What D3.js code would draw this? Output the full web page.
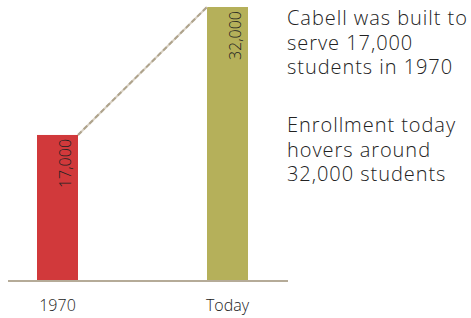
<!DOCTYPE html>
<html>
<head>
<meta charset="utf-8">
<script src="https://cdn.jsdelivr.net/npm/d3@7"></script>
<style>
  body { margin: 0; background: #fff; }
  svg { display: block; }
</style>
</head>
<body>
<script>
// data
var categories = ["1970", "Today"];
var enrollment = [17000, 32000];
var valueLabels = ["17,000", "32,000"];
var barColors = ["#d1393b", "#b5b05a"];
var notes = [
  ["Cabell was built to", "serve 17,000", "students in 1970"],
  ["Enrollment today", "hovers around", "32,000 students"]
];

var width = 471, height = 318;
var font = "'Open Sans', 'Noto Sans', sans-serif";
var svg = d3.select("body").append("svg")
  .attr("width", width).attr("height", height);

var x = d3.scalePoint().domain(categories).range([57.5, 227.5]);
var y = d3.scaleLinear().domain([0, 32000]).range([280, 7]);
var barW = 41;

var rows = categories.map(function(c, i){
  return {cat: c, val: enrollment[i], label: valueLabels[i], color: barColors[i]};
});

// bars
svg.selectAll("rect.bar").data(rows).enter().append("rect")
  .attr("class", "bar")
  .attr("x", d => x(d.cat) - barW / 2)
  .attr("y", d => y(d.val))
  .attr("width", barW)
  .attr("height", d => y(0) - y(d.val))
  .attr("fill", d => d.color);

// baseline
svg.append("line")
  .attr("x1", 8).attr("x2", 288)
  .attr("y1", y(0) + 1).attr("y2", y(0) + 1)
  .attr("stroke", "#b5ab98").attr("stroke-width", 2);

// connector between bar tops
var conn = [
  {x: x(categories[0]) + barW / 2, y: y(enrollment[0])},
  {x: x(categories[1]) - barW / 2, y: y(enrollment[1])}
];
var line = d3.line().x(d => d.x).y(d => d.y);
svg.append("path").attr("d", line(conn))
  .attr("stroke", "#d8d0c2").attr("stroke-width", 2).attr("fill", "none");
svg.append("path").attr("d", line(conn))
  .attr("stroke", "#aea38c").attr("stroke-width", 2).attr("fill", "none")
  .attr("stroke-dasharray", "5,3");

// value labels, rotated
svg.selectAll("text.val").data(rows).enter().append("text")
  .attr("class", "val")
  .attr("transform", d => "translate(" + (x(d.cat) + barW / 2 - 7) + "," + (y(d.val) + 4) + ") rotate(-90)")
  .attr("text-anchor", "end")
  .attr("font-family", font)
  .attr("font-weight", 300)
  .attr("font-size", 16)
  .attr("fill", "#222")
  .text(d => d.label);

// category labels
svg.selectAll("text.cat").data(categories).enter().append("text")
  .attr("class", "cat")
  .attr("x", d => x(d)).attr("y", 310.5)
  .attr("text-anchor", "middle")
  .attr("font-family", font)
  .attr("font-weight", 300)
  .attr("font-size", 16)
  .attr("fill", "#222")
  .text(d => d);

// annotations
var noteTops = [25, 132];
notes.forEach(function(lines, k){
  svg.append("text")
    .attr("font-family", font)
    .attr("font-weight", 300)
    .attr("font-size", 20)
    .attr("letter-spacing", 0.95)
    .attr("fill", "#222")
    .selectAll("tspan").data(lines).enter().append("tspan")
    .attr("x", 287)
    .attr("y", (d, i) => noteTops[k] + i * 24.7)
    .text(d => d);
});
</script>
</body>
</html>
